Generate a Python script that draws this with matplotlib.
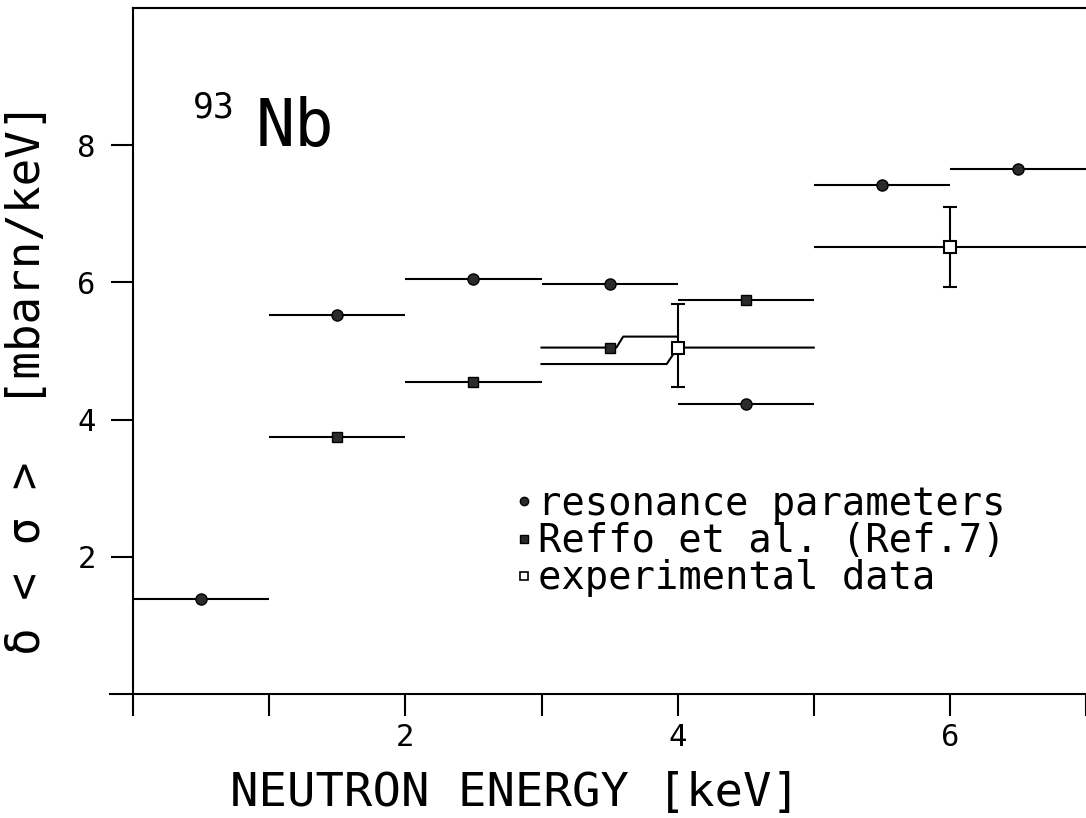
import matplotlib
matplotlib.use('Agg')
import matplotlib.pyplot as plt
from matplotlib.lines import Line2D

# resonance parameters, 1 keV bins
res_lo = [0, 1, 2, 3, 4, 5, 6]
res_hi = [1, 2, 3, 4, 5, 6, 7]
res_x = [0.5, 1.5, 2.5, 3.5, 4.5, 5.5, 6.5]
res_val = [1.39, 5.53, 6.05, 5.98, 4.23, 7.42, 7.65]

# Reffo et al. (Ref.7)
reffo_lo = [1, 2, 4]
reffo_hi = [2, 3, 5]
reffo_x = [1.5, 2.5, 3.5, 4.5]
reffo_val = [3.74, 4.55, 5.05, 5.74]
# 3-4 keV bin is drawn with a small offset to stay clear of the data line
reffo_path_x = [3.0, 3.55, 3.60, 4.0]
reffo_path_y = [5.05, 5.05, 5.21, 5.21]

# experimental data, 2 keV bins
exp_lo = [5]
exp_hi = [7]
exp_x = [4.0, 6.0]
exp_val = [5.05, 6.51]
exp_err_lo = [0.58, 0.58]
exp_err_hi = [0.63, 0.59]
exp_path_x = [3.0, 3.92, 4.0, 5.0]
exp_path_y = [4.81, 4.81, 5.05, 5.05]

xticks = [0, 1, 2, 3, 4, 5, 6, 7]
xticklabels = ['', '', '2', '', '4', '', '6', '']
yticks = [2, 4, 6, 8]

plt.rcParams['font.family'] = ['DejaVu Sans Mono']

fig = plt.figure(figsize=(10.86, 8.18), dpi=100)
ax = fig.add_axes([0.1013, 0.1516, 0.8987, 0.8386])

dark = '#2b2b2b'
lw = 1.5

ax.hlines(res_val, res_lo, res_hi, color='black', lw=lw)
ax.plot(res_x, res_val, 'o', ms=8, color=dark, mec='black')

ax.hlines([reffo_val[i] for i in (0, 1, 3)], reffo_lo, reffo_hi, color='black', lw=lw)
ax.plot(reffo_path_x, reffo_path_y, color='black', lw=lw)
ax.plot(reffo_x, reffo_val, 's', ms=7.5, color=dark, mec='black')

ax.hlines(exp_val[1:], exp_lo, exp_hi, color='black', lw=lw)
ax.plot(exp_path_x, exp_path_y, color='black', lw=lw)
ax.errorbar(exp_x, exp_val, yerr=[exp_err_lo, exp_err_hi], fmt='s', ms=8,
            mfc='white', mec='black', mew=1.5, ecolor='black', elinewidth=1.5,
            capsize=5, capthick=1.5, zorder=5)

ax.set_xlim(-0.17, 6.96)
ax.set_ylim(0, 10)

ax.spines['left'].set_position(('data', 0))
ax.spines['right'].set_visible(False)
ax.spines['top'].set_bounds(0, 7)
for s in ('left', 'top', 'bottom'):
    ax.spines[s].set_linewidth(1.5)

ax.set_xticks(xticks)
ax.set_xticklabels(xticklabels)
ax.set_yticks(yticks)
ax.tick_params(axis='x', direction='out', length=16, width=1.5, pad=5, labelsize=22)
ax.tick_params(axis='y', direction='out', length=16, width=1.5, pad=11, labelsize=22)

ax.set_xlabel('NEUTRON ENERGY [keV]', fontsize=34)
ax.xaxis.set_label_coords(0.415, -0.112)
ax.set_ylabel('δ < σ >  [mbarn/keV]', fontsize=33)
ax.yaxis.set_label_coords(-0.062, 0.46)

ax.text(0.44, 8.41, '93', fontsize=25, va='baseline')
ax.text(0.90, 7.99, 'Nb', fontsize=47, va='baseline')

handles = [
    Line2D([], [], ls='none', marker='o', ms=6, color=dark, mec='black'),
    Line2D([], [], ls='none', marker='s', ms=6, color=dark, mec='black'),
    Line2D([], [], ls='none', marker='s', ms=6, mfc='white', mec='black', mew=1.2),
]
labels = ['resonance parameters', 'Reffo et al. (Ref.7)', 'experimental data']
ax.legend(handles, labels, loc='upper left', bbox_to_anchor=(2.66, 3.33),
          bbox_transform=ax.transData, frameon=False, fontsize=28,
          handlelength=0.5, handletextpad=0.1, labelspacing=-0.02, borderpad=0)

fig.savefig('out.png', dpi=100)
